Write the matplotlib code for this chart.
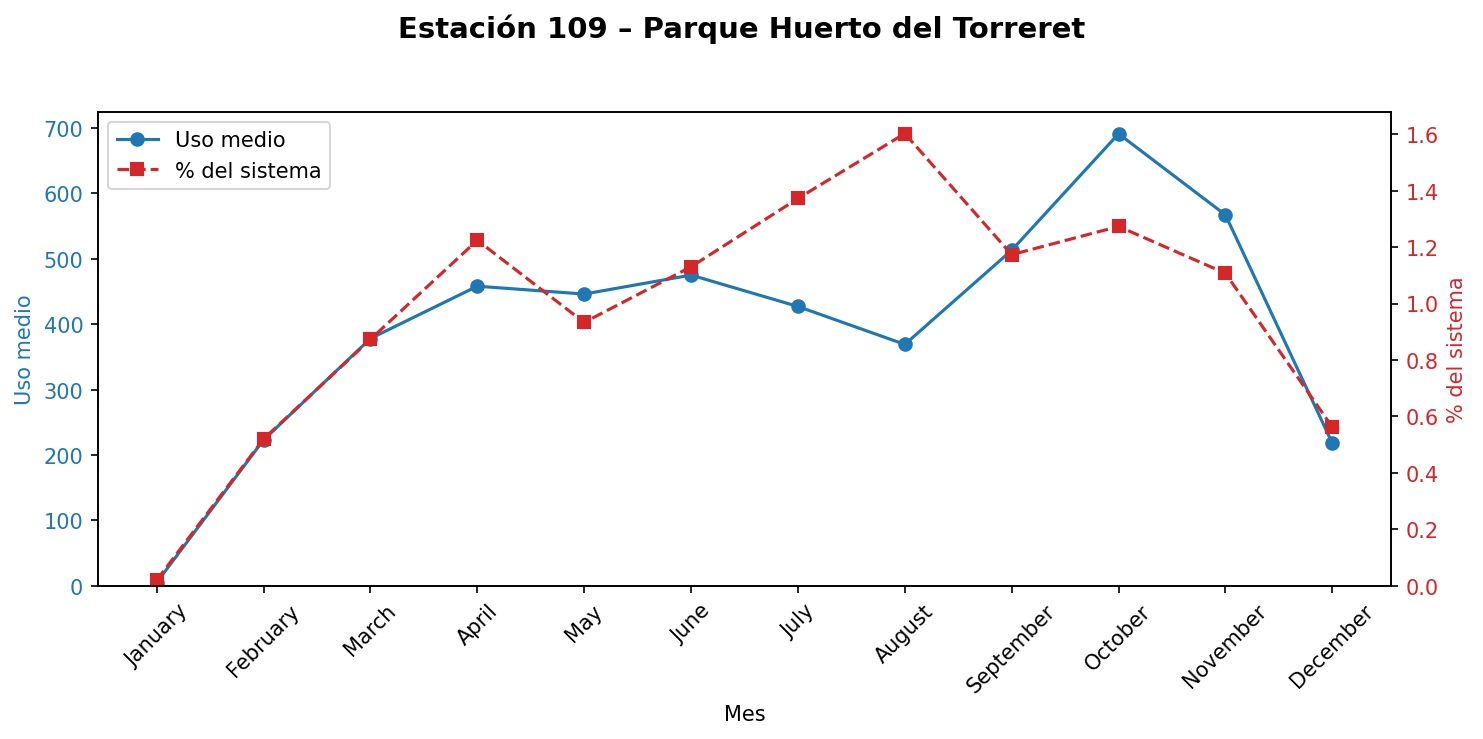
import matplotlib

matplotlib.use("Agg")
import matplotlib.pyplot as plt

months = ["January", "February", "March", "April", "May", "June",
          "July", "August", "September", "October", "November", "December"]
uso_medio = [5, 223, 378, 458, 446, 475, 427, 369, 513, 691, 567, 218]
pct_sistema = [0.02, 0.52, 0.873, 1.224, 0.933, 1.13, 1.372, 1.602, 1.173, 1.273, 1.107, 0.562]

fig, ax = plt.subplots(figsize=(9.887, 4.933), dpi=150)
fig.subplots_adjust(left=0.066, right=0.938, top=0.848, bottom=0.207)

x = range(len(months))
l1, = ax.plot(x, uso_medio, color="tab:blue", marker="o", label="Uso medio")
ax.set_ylim(0, 725)
ax.set_ylabel("Uso medio", color="tab:blue")
ax.tick_params(axis="y", labelcolor="tab:blue")
ax.set_xlabel("Mes")
ax.set_xticks(list(x))
ax.set_xticklabels(months, rotation=45)

ax2 = ax.twinx()
l2, = ax2.plot(x, pct_sistema, color="tab:red", marker="s", linestyle="--", label="% del sistema")
ax2.set_ylim(0, 1.68)
ax2.set_ylabel("% del sistema", color="tab:red")
ax2.tick_params(axis="y", labelcolor="tab:red")

ax.legend([l1, l2], [l1.get_label(), l2.get_label()], loc="upper left")
fig.suptitle("Estación 109 – Parque Huerto del Torreret", fontweight="bold", fontsize=14, y=0.98)
fig.savefig("out.png")
